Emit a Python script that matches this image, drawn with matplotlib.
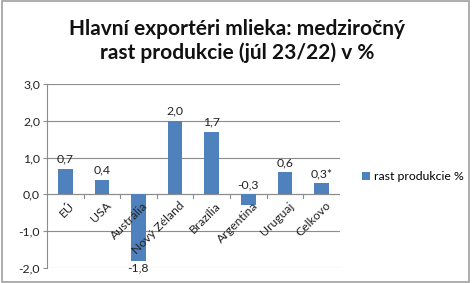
import matplotlib
matplotlib.use("Agg")
import matplotlib.pyplot as plt
from matplotlib.patches import Rectangle

plt.rcParams["font.family"] = ["Lato", "DejaVu Sans"]

# data
categories = ["EÚ", "USA", "Austrália", "Nový Zéland", "Brazília", "Argentina", "Uruguaj", "Celkovo"]
values = [0.7, 0.4, -1.8, 2.0, 1.7, -0.3, 0.6, 0.3]
value_labels = ["0,7", "0,4", "-1,8", "2,0", "1,7", "-0,3", "0,6", "0,3*"]
y_ticks = [-2, -1, 0, 1, 2, 3]
y_tick_labels = ["-2,0", "-1,0", "0,0", "1,0", "2,0", "3,0"]
series_name = "rast produkcie %"
title = "Hlavní exportéri mlieka: medziročný\nrast produkcie (júl 23/22) v %"

BAR = "#4F81BD"
GRID = "#8C8C8C"
TXT = "#222222"
FS = 8.8

fig = plt.figure(figsize=(4.74, 2.83), dpi=100)
fig.patches.append(Rectangle((0.005, 0.005), 0.985, 0.99, transform=fig.transFigure,
                             fill=False, edgecolor="#A0A0A0", linewidth=1.2))

ax = fig.add_axes([0.099, 0.053, 0.618, 0.650])
x = list(range(len(categories)))
bars = ax.bar(x, values, width=0.4, color=BAR, label=series_name, zorder=3)

ax.set_xlim(-0.5, len(categories) - 0.5)
ax.set_ylim(-2, 3)
ax.set_yticks(y_ticks)
ax.set_yticklabels(y_tick_labels, fontsize=FS, color=TXT)
ax.yaxis.grid(True, color=GRID, linewidth=0.8, zorder=0)
for s in ["top", "right", "bottom"]:
    ax.spines[s].set_visible(False)
ax.spines["left"].set_color(GRID)
ax.tick_params(axis="y", length=3, color=GRID, pad=2)

# category axis at zero with boundary ticks
ax.axhline(0, color=GRID, linewidth=0.8, zorder=2)
ax.set_xticks([])
for b in range(1, len(categories) + 1):
    ax.plot([b - 0.5, b - 0.5], [0, -0.1], color=GRID, linewidth=0.8, zorder=2)
for xi, name in zip(x, categories):
    ax.text(xi + 0.1, -0.15, name, rotation=45, ha="right", va="top",
            rotation_mode="anchor", fontsize=FS, color=TXT)

# data labels
for xi, v, lab in zip(x, values, value_labels):
    if v >= 0 or abs(v) < 0.5:
        ax.text(xi, max(v, 0) + 0.12, lab, ha="center", va="bottom", fontsize=FS, color=TXT)
    else:
        ax.text(xi, v - 0.05, lab, ha="center", va="top", fontsize=FS, color=TXT)

fig.text(0.5, 0.855, title, ha="center", va="center", fontsize=15, fontweight="bold",
         linespacing=1.2, color="#111111")

fig.legend(handles=[bars], labels=[series_name], loc="center left",
           bbox_to_anchor=(0.74, 0.375), frameon=False, fontsize=FS,
           handlelength=0.7, handleheight=0.7, handletextpad=0.3)

fig.savefig("out.png", dpi=100)
